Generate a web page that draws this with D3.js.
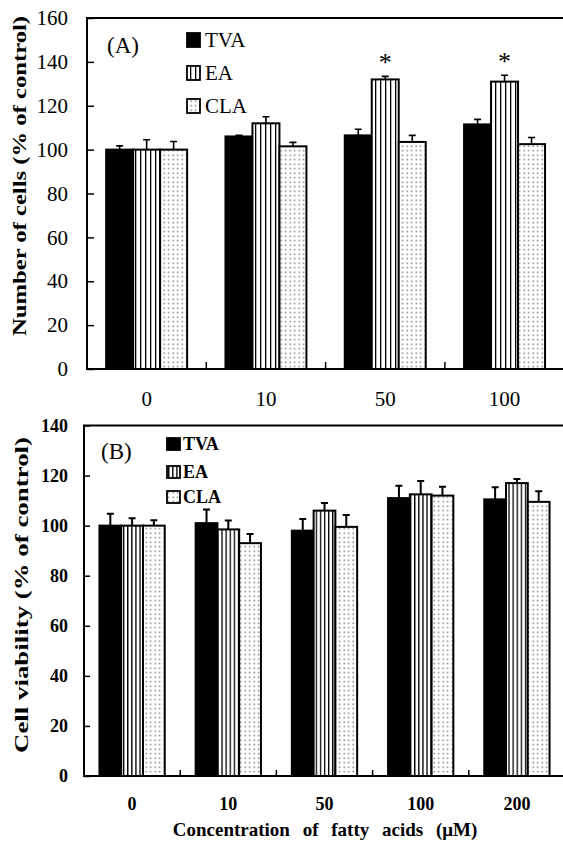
<!DOCTYPE html>
<html><head><meta charset="utf-8">
<script src="https://cdn.jsdelivr.net/npm/d3@7/dist/d3.min.js"></script>
<style>body{margin:0;background:#fff}svg{display:block}</style>
</head><body>
<svg id="c" width="563" height="843"></svg>
<script>
// ---- data ----
const seriesNames = ["TVA", "EA", "CLA"];
const catsA = ["0", "10", "50", "100"];
const tvaA = [100, 106, 106.5, 111.5];
const eaA = [100, 112, 132, 131];
const claA = [100, 101.5, 103.5, 102.5];
const tvaErrA = [1.7, 0.5, 2.8, 2.3];
const eaErrA = [4.5, 3, 1.4, 2.9];
const claErrA = [3.7, 1.8, 3, 3];
const starsA = ["", "", "*", "*"]; // on EA bars
const yTicksA = [0, 20, 40, 60, 80, 100, 120, 140, 160];

const catsB = ["0", "10", "50", "100", "200"];
const tvaB = [100, 101, 98, 111, 110.5];
const eaB = [100, 98.5, 106, 112.5, 117];
const claB = [100, 93, 99.5, 112, 109.5];
const tvaErrB = [4.8, 5.4, 4.7, 4.9, 4.8];
const eaErrB = [3, 3.6, 3, 5.3, 1.6];
const claErrB = [2.2, 3.7, 4.8, 3.5, 4.2];
const yTicksB = [0, 20, 40, 60, 80, 100, 120, 140];

const FONT = "Liberation Serif, Times New Roman, serif";
const svg = d3.select("#c");
const defs = svg.append("defs");

function makePatterns(id, period, lw) {
  const ps = defs.append("pattern").attr("id", "stripe" + id)
    .attr("patternUnits", "userSpaceOnUse").attr("width", period).attr("height", 10);
  ps.append("rect").attr("width", period).attr("height", 10).attr("fill", "#fff");
  ps.append("rect").attr("x", 0).attr("width", lw).attr("height", 10).attr("fill", "#000");
  const pd = defs.append("pattern").attr("id", "dot" + id)
    .attr("patternUnits", "userSpaceOnUse").attr("width", 4.5).attr("height", 4.5);
  pd.append("rect").attr("width", 4.5).attr("height", 4.5).attr("fill", "#fff");
  pd.append("rect").attr("x", 1.5).attr("y", 1.5).attr("width", 1.4).attr("height", 1.4).attr("fill", "#6a6a6a");
}
makePatterns("A", 5, 1.3);
makePatterns("B", 4.1, 1.3);

function panel(opt) {
  const {cats, data, errs, yMax, yTicks, left, right, top, bottom, id, bold,
         tickFont, tickPadY, tickPadX, tickLen, legend, tag, stars} = opt;
  const g = svg.append("g").style("font-family", FONT);
  const x0 = d3.scaleBand().domain(cats).range([left, right]).padding(0);
  const x1 = d3.scaleBand().domain(seriesNames).range([0, x0.bandwidth()]).paddingInner(0).paddingOuter(0.71);
  const y = d3.scaleLinear().domain([0, yMax]).range([bottom, top]);
  const fills = ["#000", `url(#stripe${id})`, `url(#dot${id})`];

  // bars
  seriesNames.forEach((s, si) => {
    const gs = g.append("g");
    gs.selectAll("rect").data(cats).join("rect")
      .attr("x", c => x0(c) + x1(s))
      .attr("y", (c, i) => y(data[si][i]))
      .attr("width", x1.bandwidth())
      .attr("height", (c, i) => y(0) - y(data[si][i]))
      .attr("fill", fills[si]).attr("stroke", "#000").attr("stroke-width", 2);
    const cw = opt.capW;
    gs.selectAll("path.err").data(cats).join("path").attr("class", "err")
      .attr("d", (c, i) => {
        const cx = x0(c) + x1(s) + x1.bandwidth() / 2;
        const y1 = y(data[si][i]), y2 = y(data[si][i] + errs[si][i]);
        return `M${cx},${y1}V${y2}M${cx - cw / 2},${y2}H${cx + cw / 2}`;
      })
      .attr("stroke", "#000").attr("stroke-width", opt.errW).attr("fill", "none");
  });

  if (stars) {
    g.selectAll("text.star").data(cats).join("text").attr("class", "star")
      .attr("x", c => x0(c) + x1("EA") + x1.bandwidth() / 2)
      .attr("y", (c, i) => y(data[1][i] + errs[1][i]) - 5)
      .attr("text-anchor", "middle").style("font-family", FONT).attr("font-size", 26)
      .text((c, i) => stars[i]);
  }

  g.append("rect").attr("x", left).attr("y", top).attr("width", right - left).attr("height", bottom - top)
    .attr("fill", "none").attr("stroke", "#000").attr("stroke-width", 2);

  const ya = g.append("g").attr("transform", `translate(${left},0)`)
    .call(d3.axisLeft(y).tickValues(yTicks).tickSize(-tickLen).tickPadding(tickPadY).tickFormat(d3.format("d")));
  ya.select(".domain").remove();
  ya.attr("font-family", null);
  ya.selectAll("line").attr("stroke-width", 1.5);
  ya.selectAll("text").style("font-family", FONT).attr("font-size", tickFont).attr("font-weight", bold ? "bold" : "normal").attr("fill", "#000");

  const xa = g.append("g").attr("transform", `translate(0,${bottom})`)
    .call(d3.axisBottom(x0).tickSize(0).tickPadding(tickPadX));
  xa.select(".domain").remove();
  xa.attr("font-family", null);
  xa.selectAll("text").style("font-family", FONT).attr("font-size", tickFont).attr("font-weight", bold ? "bold" : "normal").attr("fill", "#000");
  g.selectAll("line.bt").data(cats.slice(1)).join("line").attr("class", "bt")
    .attr("x1", c => x0(c)).attr("x2", c => x0(c))
    .attr("y1", bottom).attr("y2", bottom - tickLen)
    .attr("stroke", "#000").attr("stroke-width", 1.5);

  seriesNames.forEach((s, si) => {
    const cy = legend.rows[si];
    g.append("rect").attr("x", legend.x).attr("y", cy - legend.sh / 2)
      .attr("width", legend.sw).attr("height", legend.sh)
      .attr("fill", fills[si]).attr("stroke", "#000").attr("stroke-width", 1.8);
    g.append("text").attr("x", legend.tx).attr("y", cy).attr("dy", "0.35em")
      .style("font-family", FONT).attr("font-size", legend.fs).attr("font-weight", bold ? "bold" : "normal")
      .text(s);
  });
  g.append("text").attr("x", tag.x).attr("y", tag.y).style("font-family", FONT).attr("font-size", 23).text(tag.text);
  return g;
}

panel({cats: catsA, data: [tvaA, eaA, claA], errs: [tvaErrA, eaErrA, claErrA], yMax: 160, yTicks: yTicksA,
  left: 87, right: 564.2, top: 18, bottom: 369, id: "A", bold: false, tickFont: 21, tickPadY: 19, tickPadX: 22,
  tickLen: 7, capW: 7, errW: 1.6, stars: starsA,
  legend: {x: 187, tx: 205, sw: 13, sh: 14, fs: 21, rows: [40, 73, 106]},
  tag: {x: 107, y: 53, text: "(A)"}});

panel({cats: catsB, data: [tvaB, eaB, claB], errs: [tvaErrB, eaErrB, claErrB], yMax: 140, yTicks: yTicksB,
  left: 84, right: 565, top: 425.5, bottom: 776, id: "B", bold: true, tickFont: 18, tickPadY: 16, tickPadX: 21,
  tickLen: 6, capW: 7, errW: 2, stars: null,
  legend: {x: 167, tx: 183, sw: 13, sh: 12, fs: 18, rows: [444, 472, 497]},
  tag: {x: 101, y: 459, text: "(B)"}});

svg.append("text").attr("transform", "translate(26,176) rotate(-90)")
  .attr("text-anchor", "middle").style("font-family", FONT).attr("font-size", 19).attr("font-weight", "bold")
  .attr("textLength", 320).attr("lengthAdjust", "spacingAndGlyphs")
  .text("Number of cells (% of control)");
svg.append("text").attr("transform", "translate(28,595) rotate(-90)")
  .attr("text-anchor", "middle").style("font-family", FONT).attr("font-size", 19).attr("font-weight", "bold")
  .attr("textLength", 316).attr("lengthAdjust", "spacingAndGlyphs")
  .text("Cell viability (% of control)");
svg.append("text").attr("x", 325).attr("y", 836)
  .attr("text-anchor", "middle").style("font-family", FONT).attr("font-size", 19).attr("font-weight", "bold")
  .style("word-spacing", "8px")
  .text("Concentration of fatty acids (\u03bcM)");
</script>
</body></html>
